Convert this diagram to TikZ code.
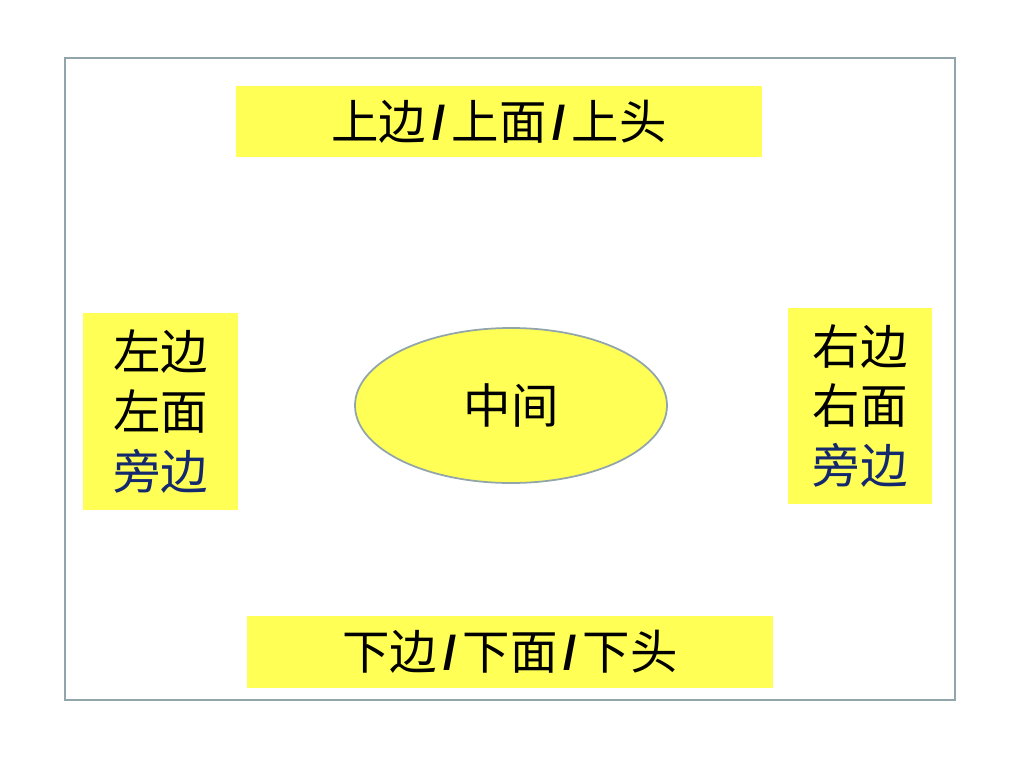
\documentclass[tikz,border=0pt]{standalone}
\usepackage{fontspec}
\newfontfamily\cjk{Noto Sans CJK SC}
\newfontfamily\slashfont{Liberation Sans}
\newcommand{\bslash}{\kern3.5pt{\slashfont\bfseries/}\kern3.5pt}
\begin{document}
\begin{tikzpicture}[x=0.02cm, y=-0.02cm, font=\cjk\fontsize{27}{34}\selectfont,
	tag/.style={fill=boxyellow, inner sep=0pt, align=center}]
				\definecolor{boxyellow}{RGB}{255, 255, 85}
				\definecolor{framegray}{RGB}{145, 165, 170}
				\definecolor{sideblue}{RGB}{20, 40, 110}
				\useasboundingbox (0,0) rectangle (1018,782);
				\draw[line width=1.3pt, framegray] (65,58) rectangle (955,700);
				\node[tag, minimum width=526*0.02cm, minimum height=71*0.02cm] (top) at (499,121.5) {上边\bslash 上面\bslash 上头};
				\node[tag, minimum width=526*0.02cm, minimum height=72*0.02cm] (bottom) at (510,652) {下边\bslash 下面\bslash 下头};
				\node[tag, minimum width=155*0.02cm, minimum height=197*0.02cm] (left) at (160.5,411.5) {左边\\左面\\\textcolor{sideblue}{旁边}};
				\node[tag, minimum width=144*0.02cm, minimum height=196*0.02cm] (right) at (860,406) {右边\\右面\\\textcolor{sideblue}{旁边}};
				\draw[line width=1pt, framegray, fill=boxyellow] (511,405.5) ellipse (156 and 77.5);
				\node (middle) at (511,405.5) {中间};
			\end{tikzpicture}
\end{document}
